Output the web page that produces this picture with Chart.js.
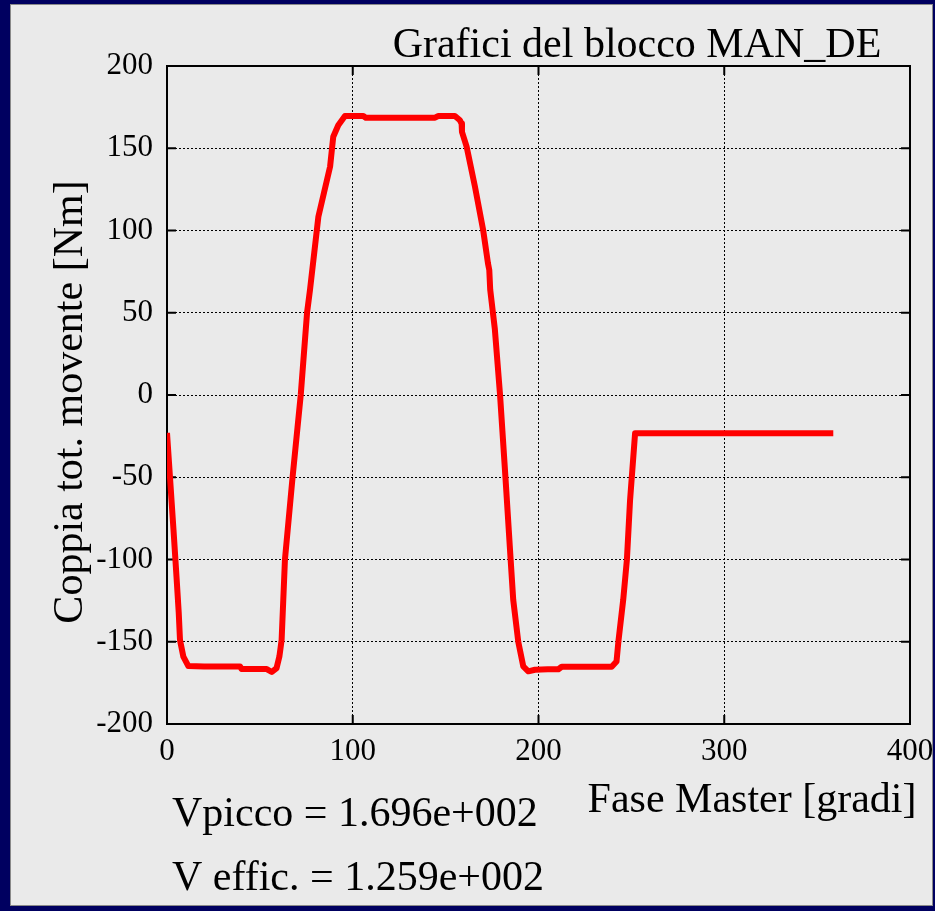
<!DOCTYPE html>
<html>
<head>
<meta charset="utf-8">
<title>Grafici del blocco MAN_DE</title>
<script src="https://cdn.jsdelivr.net/npm/chart.js@4"></script>
<style>
    html, body { margin: 0; padding: 0; background: #000060; }
    body { width: 935px; height: 911px; overflow: hidden; position: relative; }
    #panel {
        position: absolute; left: 10px; top: 4px; width: 923px; height: 902px;
        background: #eaeaea; border: 1px solid #8a8a8a; box-sizing: border-box;
    }
    #wrap { position: absolute; left: 0; top: 0; width: 935px; height: 911px; }
</style>
</head>
<body>
<div id="panel"></div>
<div id="wrap"><canvas id="myChart"></canvas></div>
<script>
// fase master [gradi] e coppia totale movente [Nm]
const faseGradi = [0, 1.6, 3.5, 5.2, 6.3, 7.0, 8.8, 11.5, 20, 30, 39.3, 40.2, 50, 53.7, 56.4, 59.0, 60.5, 61.7,
    63.5, 67.6, 72.0, 75.4, 77.0, 81.5, 87.8, 89.5, 92.2, 95.8, 100, 105.7, 107, 120, 135, 144.3, 145.9, 150, 155,
    157.7, 158.6, 158.8, 161.3, 165.8, 170.2, 172.8, 173.5, 174.0, 176.5, 179.3, 182.2, 185.0, 186.4, 189.1, 191.8,
    194.5, 198.1, 205, 210.7, 212.5, 225, 239.4, 242.0, 243.0, 245.6, 247.6, 249.3, 252.0, 300, 358.7];
const coppia = [-23, -50, -82, -112, -132, -149, -159, -164.8, -165, -165, -165, -166.6, -166.6, -166.6, -168.4, -166, -159, -149,
    -100, -50, 0, 50, 64, 108.4, 138.8, 157, 164, 169.6, 169.6, 169.6, 168.6, 168.6, 168.6, 168.6, 169.6, 169.6, 169.6,
    167, 165, 160, 151, 126.6, 100.3, 80, 76, 64, 40, 0, -50, -100, -124.6, -150, -165,
    -168, -167, -166.7, -166.7, -165.2, -165.2, -165.2, -162, -150, -124.6, -100, -63.8, -23.3, -23.3, -23.3];

const xTicks = [0, 100, 200, 300, 400];
const yTicks = [-200, -150, -100, -50, 0, 50, 100, 150, 200];

const titolo = 'Grafici del blocco MAN_DE';
const titoloX = 'Fase Master [gradi]';
const titoloY = 'Coppia tot. movente [Nm]';
const righeStat = ['Vpicco = 1.696e+002', 'V effic. = 1.259e+002'];

const serif = "'Liberation Serif', 'Times New Roman', serif";

// cornice, tacche verso l'interno e testi
const cornice = {
    id: 'cornice',
    beforeDatasetsDraw(chart) {
        const { ctx, chartArea: a, scales: { x, y } } = chart;
        ctx.save();
        ctx.strokeStyle = '#000';
        ctx.lineWidth = 2;
        ctx.strokeRect(a.left, a.top, a.right - a.left, a.bottom - a.top);
        ctx.beginPath();
        x.ticks.forEach(t => {
            const px = x.getPixelForValue(t.value);
            ctx.moveTo(px, a.bottom); ctx.lineTo(px, a.bottom - 9);
            ctx.moveTo(px, a.top); ctx.lineTo(px, a.top + 9);
        });
        y.ticks.forEach(t => {
            const py = y.getPixelForValue(t.value);
            ctx.moveTo(a.left, py); ctx.lineTo(a.left + 9, py);
            ctx.moveTo(a.right, py); ctx.lineTo(a.right - 9, py);
        });
        ctx.stroke();
        ctx.restore();
    },
    afterDraw(chart) {
        const ctx = chart.ctx;
        ctx.save();
        ctx.fillStyle = '#000';
        ctx.font = '42px ' + serif;
        ctx.textBaseline = 'alphabetic';
        ctx.textAlign = 'center';
        ctx.fillText(titolo, 637, 57);
        ctx.fillText(titoloX, 752, 812);
        ctx.textAlign = 'left';
        ctx.fillText(righeStat[0], 172, 826);
        ctx.fillText(righeStat[1], 172, 890);
        ctx.translate(82, 402);
        ctx.rotate(-Math.PI / 2);
        ctx.textAlign = 'center';
        ctx.fillText(titoloY, 0, 0);
        ctx.restore();
    }
};

Chart.defaults.font.family = serif;
Chart.defaults.font.size = 31;
Chart.defaults.color = '#000';

const ctx = document.getElementById('myChart').getContext('2d');
new Chart(ctx, {
    type: 'line',
    data: {
        datasets: [{
            data: faseGradi.map((f, i) => ({ x: f, y: coppia[i] })),
            borderColor: '#ff0000',
            borderWidth: 6,
            borderJoinStyle: 'round',
            pointRadius: 0,
            tension: 0,
            fill: false
        }]
    },
    options: {
        responsive: true,
        maintainAspectRatio: false,
        animation: false,
        layout: { padding: { top: 66, right: 25, bottom: 0, left: 0 } },
        plugins: { legend: { display: false }, tooltip: { enabled: false } },
        scales: {
            x: {
                type: 'linear',
                min: xTicks[0],
                max: xTicks[xTicks.length - 1],
                afterBuildTicks: s => { s.ticks = xTicks.map(v => ({ value: v })); },
                afterFit: s => { s.height = 187; s.paddingLeft = 0; s.paddingRight = 0; },
                grid: { color: '#000', lineWidth: 1, drawTicks: false },
                border: { display: false, dash: [2, 2] },
                ticks: { padding: 9, maxRotation: 0 }
            },
            y: {
                min: yTicks[0],
                max: yTicks[yTicks.length - 1],
                afterBuildTicks: s => { s.ticks = yTicks.map(v => ({ value: v })); },
                afterFit: s => { s.width = 167; s.paddingTop = 0; s.paddingBottom = 0; },
                grid: { color: '#000', lineWidth: 1, drawTicks: false },
                border: { display: false, dash: [2, 2] },
                ticks: { padding: 14 }
            }
        }
    },
    plugins: [cornice]
});
</script>
</body>
</html>
